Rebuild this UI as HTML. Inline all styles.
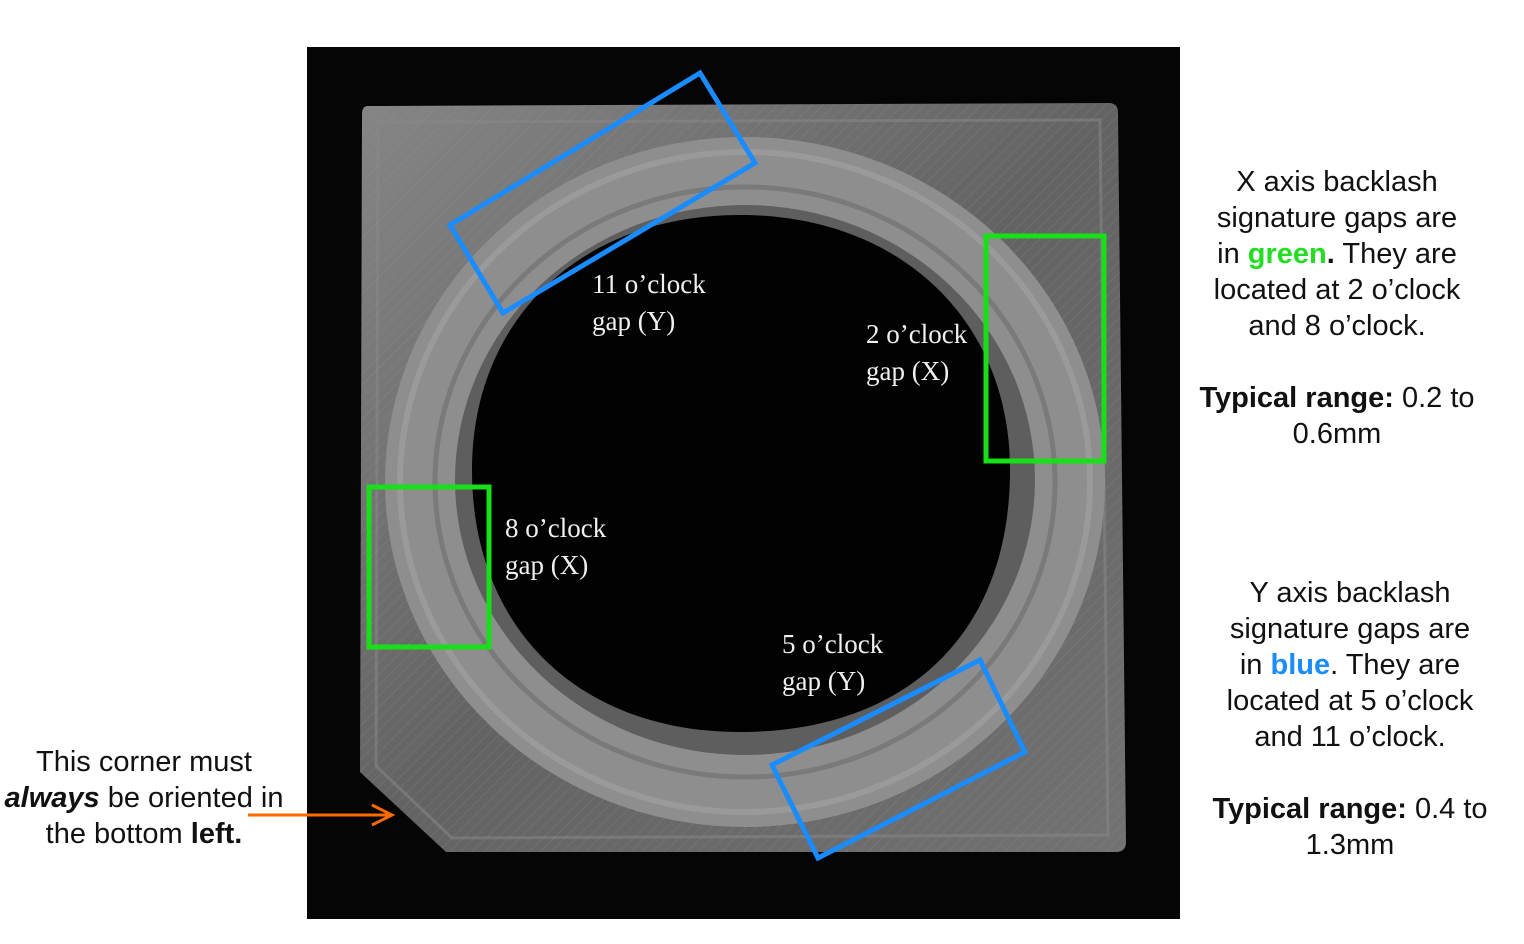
<!DOCTYPE html>
<html><head><meta charset="utf-8"><style>
html,body{margin:0;padding:0;background:#fff;width:1524px;height:944px;overflow:hidden}
svg{display:block}
.lbl{font-family:"Liberation Serif",serif;font-size:27px;fill:#f0f0f0}
.side{font-family:"Liberation Sans",sans-serif;font-size:29px;fill:#111}
</style></head><body>
<svg width="1524" height="944" viewBox="0 0 1524 944">
<defs>
<linearGradient id="pl" x1="0" y1="0" x2="1" y2="1">
<stop offset="0" stop-color="#858585"/><stop offset="0.5" stop-color="#636363"/><stop offset="1" stop-color="#727272"/>
</linearGradient>
<pattern id="hatch" width="8" height="8" patternUnits="userSpaceOnUse" patternTransform="rotate(45)">
<rect width="8" height="8" fill="none"/><line x1="0" y1="0" x2="0" y2="8" stroke="#999" stroke-width="1" opacity="0.35"/>
</pattern>
</defs>
<rect x="307" y="47" width="873" height="872" fill="#050505"/>
<g>
<path d="M368,106 L1110,103 Q1118,104 1118,112 L1126,842 Q1126,852 1116,852 L446,852 L360,772 L362,114 Q362,106 368,106 Z" fill="url(#pl)"/>
<path d="M368,106 L1110,103 Q1118,104 1118,112 L1126,842 Q1126,852 1116,852 L446,852 L360,772 L362,114 Q362,106 368,106 Z" fill="url(#hatch)"/>
<path d="M378,122 L1100,120 L1108,835 L452,838 L376,766 Z" fill="none" stroke="#8a8a8a" stroke-width="3" opacity="0.5"/>
</g>
<g>
<ellipse cx="745" cy="482" rx="360" ry="345" fill="#8e8e8e"/>
<ellipse cx="745" cy="482" rx="345" ry="330" fill="none" stroke="#a5a5a5" stroke-width="6" opacity="0.5"/>
<ellipse cx="745" cy="482" rx="310" ry="295" fill="none" stroke="#6c6c6c" stroke-width="5" opacity="0.6"/>
<ellipse cx="745" cy="480" rx="290" ry="275" fill="#5e5e5e"/>
<path d="M740,215 C900,215 1010,320 1010,470 C1010,640 900,732 740,732 C580,732 472,630 472,470 C472,320 580,215 740,215 Z" fill="#020202"/>
</g>
<g>
<polygon points="450,225 700,73 755,163 503,313" fill="none" stroke="#1a8cff" stroke-width="5"/>
</g>
<g>
<polygon points="772,765 980,660 1025,752 818,858" fill="none" stroke="#1a8cff" stroke-width="5"/>
</g>
<rect x="986" y="236" width="118" height="225" fill="none" stroke="#18e018" stroke-width="5"/>
<rect x="369" y="487" width="120" height="160" fill="none" stroke="#18e018" stroke-width="5"/>
<g><text class="lbl" x="592" y="293">11 o’clock</text><text class="lbl" x="592" y="330">gap (Y)</text></g>
<g><text class="lbl" x="866" y="343">2 o’clock</text><text class="lbl" x="866" y="380">gap (X)</text></g>
<g><text class="lbl" x="505" y="537">8 o’clock</text><text class="lbl" x="505" y="574">gap (X)</text></g>
<g><text class="lbl" x="782" y="653">5 o’clock</text><text class="lbl" x="782" y="690">gap (Y)</text></g>
<g text-anchor="middle">
<text class="side" x="144" y="771">This corner must</text>
<text class="side" x="144" y="807"><tspan font-weight="bold" font-style="italic">always</tspan> be oriented in</text>
<text class="side" x="144" y="843">the bottom <tspan font-weight="bold">left.</tspan></text>
</g>
<g>
<line x1="248" y1="815" x2="390" y2="815" stroke="#ff6a00" stroke-width="3"/>
<path d="M372,805 L392,815 L372,825" fill="none" stroke="#ff6a00" stroke-width="3"/>
</g>
<g text-anchor="middle">
<text class="side" x="1337" y="191">X axis backlash</text>
<text class="side" x="1337" y="227">signature gaps are</text>
<text class="side" x="1337" y="263">in <tspan fill="#22dd22" font-weight="bold">green</tspan><tspan font-weight="bold">.</tspan> They are</text>
<text class="side" x="1337" y="299">located at 2 o’clock</text>
<text class="side" x="1337" y="335">and 8 o’clock.</text>
<text class="side" x="1337" y="407"><tspan font-weight="bold">Typical range:</tspan> 0.2 to</text>
<text class="side" x="1337" y="443">0.6mm</text>
</g>
<g text-anchor="middle">
<text class="side" x="1350" y="602">Y axis backlash</text>
<text class="side" x="1350" y="638">signature gaps are</text>
<text class="side" x="1350" y="674">in <tspan fill="#1a8cff" font-weight="bold">blue</tspan>. They are</text>
<text class="side" x="1350" y="710">located at 5 o’clock</text>
<text class="side" x="1350" y="746">and 11 o’clock.</text>
<text class="side" x="1350" y="818"><tspan font-weight="bold">Typical range:</tspan> 0.4 to</text>
<text class="side" x="1350" y="854">1.3mm</text>
</g>
</svg>
</body></html>
